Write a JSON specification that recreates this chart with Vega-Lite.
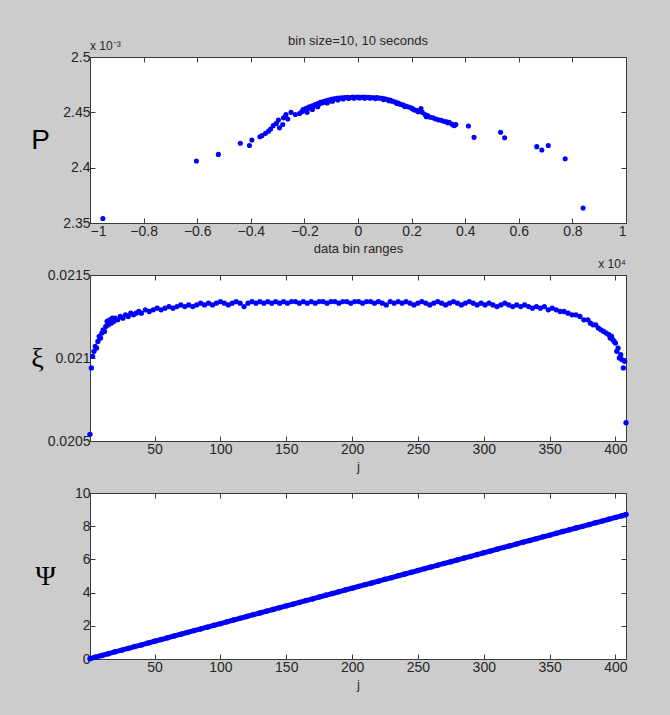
{
  "$schema": "https://vega.github.io/schema/vega-lite/v6.json",
  "background": "#cccccc",
  "autosize": {"type": "none"},
  "padding": {"left": 90, "top": 57, "right": 580, "bottom": 658},
  "config": {
    "view": {"fill": "#ffffff", "stroke": "#3a3a3a", "strokeWidth": 1},
    "axis": {
      "domain": false, "grid": false, "tickSize": -5, "tickColor": "#3a3a3a", "tickWidth": 1,
      "labelFont": "Liberation Sans", "labelFontSize": 14, "labelColor": "#262626", "labelPadding": 6,
      "titleFont": "Liberation Sans", "titleFontSize": 13, "titleFontWeight": "normal", "titleColor": "#262626", "titlePadding": 4
    },
    "axisY": {"labelPadding": 5}
  },
  "datasets": {
    "pdata": [
      {"range": -0.952, "P": 2.354}, {"range": -0.603, "P": 2.406}, {"range": -0.521, "P": 2.412},
      {"range": -0.439, "P": 2.422}, {"range": -0.405, "P": 2.420}, {"range": -0.396, "P": 2.425},
      {"range": -0.366, "P": 2.428}, {"range": -0.358, "P": 2.429}, {"range": -0.345, "P": 2.431},
      {"range": -0.334, "P": 2.433}, {"range": -0.326, "P": 2.435}, {"range": -0.316, "P": 2.438},
      {"range": -0.305, "P": 2.440}, {"range": -0.297, "P": 2.443}, {"range": -0.293, "P": 2.436},
      {"range": -0.281, "P": 2.439}, {"range": -0.278, "P": 2.445}, {"range": -0.269, "P": 2.448},
      {"range": -0.262, "P": 2.444}, {"range": -0.25, "P": 2.450}, {"range": -0.234, "P": 2.448},
      {"range": -0.218, "P": 2.449},
      {"range": -0.21, "P": 2.4505}, {"range": -0.205, "P": 2.4525}, {"range": -0.2, "P": 2.4515},
      {"range": -0.195, "P": 2.4535}, {"range": -0.19, "P": 2.4525}, {"range": -0.19, "P": 2.4500},
      {"range": -0.185, "P": 2.4545}, {"range": -0.18, "P": 2.4550}, {"range": -0.175, "P": 2.4540},
      {"range": -0.17, "P": 2.4560}, {"range": -0.17, "P": 2.4525}, {"range": -0.165, "P": 2.4555},
      {"range": -0.16, "P": 2.4570}, {"range": -0.155, "P": 2.4565}, {"range": -0.15, "P": 2.4580},
      {"range": -0.15, "P": 2.4550}, {"range": -0.145, "P": 2.4575}, {"range": -0.14, "P": 2.4590},
      {"range": -0.135, "P": 2.4585}, {"range": -0.13, "P": 2.4598}, {"range": -0.125, "P": 2.4592},
      {"range": -0.12, "P": 2.4605}, {"range": -0.115, "P": 2.4585}, {"range": -0.11, "P": 2.4610},
      {"range": -0.105, "P": 2.4602}, {"range": -0.095, "P": 2.4600}, {"range": -0.1, "P": 2.4618},
      {"range": -0.09, "P": 2.4622}, {"range": -0.08, "P": 2.4626}, {"range": -0.075, "P": 2.4612},
      {"range": -0.07, "P": 2.4628}, {"range": -0.06, "P": 2.4632}, {"range": -0.055, "P": 2.4620},
      {"range": -0.05, "P": 2.4633}, {"range": -0.04, "P": 2.4636}, {"range": -0.035, "P": 2.4625},
      {"range": -0.03, "P": 2.4634}, {"range": -0.02, "P": 2.4637}, {"range": -0.015, "P": 2.4628},
      {"range": -0.01, "P": 2.4636}, {"range": 0.0, "P": 2.4638}, {"range": 0.005, "P": 2.4629},
      {"range": 0.01, "P": 2.4636}, {"range": 0.02, "P": 2.4637}, {"range": 0.025, "P": 2.4628},
      {"range": 0.03, "P": 2.4635}, {"range": 0.04, "P": 2.4636}, {"range": 0.045, "P": 2.4627},
      {"range": 0.05, "P": 2.4634}, {"range": 0.06, "P": 2.4632}, {"range": 0.065, "P": 2.4624},
      {"range": 0.07, "P": 2.4633}, {"range": 0.08, "P": 2.4628}, {"range": 0.09, "P": 2.4626},
      {"range": 0.095, "P": 2.4615}, {"range": 0.1, "P": 2.4622}, {"range": 0.11, "P": 2.4615},
      {"range": 0.115, "P": 2.4604}, {"range": 0.12, "P": 2.4610}, {"range": 0.125, "P": 2.4602},
      {"range": 0.13, "P": 2.4600}, {"range": 0.14, "P": 2.4592}, {"range": 0.145, "P": 2.4580},
      {"range": 0.15, "P": 2.4585}, {"range": 0.155, "P": 2.4575}, {"range": 0.16, "P": 2.4572},
      {"range": 0.17, "P": 2.4565}, {"range": 0.175, "P": 2.4552}, {"range": 0.18, "P": 2.4555},
      {"range": 0.19, "P": 2.4548}, {"range": 0.2, "P": 2.4538}, {"range": 0.205, "P": 2.4530},
      {"range": 0.21, "P": 2.4522}, {"range": 0.22, "P": 2.4515}, {"range": 0.225, "P": 2.4505},
      {"range": 0.235, "P": 2.4535}, {"range": 0.24, "P": 2.4500}, {"range": 0.25, "P": 2.4480},
      {"range": 0.255, "P": 2.4460}, {"range": 0.26, "P": 2.4470}, {"range": 0.27, "P": 2.4455},
      {"range": 0.28, "P": 2.4450}, {"range": 0.29, "P": 2.4440}, {"range": 0.3, "P": 2.4432},
      {"range": 0.31, "P": 2.4428}, {"range": 0.32, "P": 2.4420}, {"range": 0.33, "P": 2.4415},
      {"range": 0.335, "P": 2.4405}, {"range": 0.34, "P": 2.4410}, {"range": 0.35, "P": 2.4395},
      {"range": 0.355, "P": 2.4385}, {"range": 0.36, "P": 2.4380}, {"range": 0.365, "P": 2.4390},
      {"range": 0.412, "P": 2.4377}, {"range": 0.433, "P": 2.4274}, {"range": 0.532, "P": 2.432},
      {"range": 0.547, "P": 2.427}, {"range": 0.667, "P": 2.419}, {"range": 0.686, "P": 2.416},
      {"range": 0.71, "P": 2.420}, {"range": 0.773, "P": 2.408}, {"range": 0.84, "P": 2.3635}
    ],
    "xidata": [
      {"j": 1, "xi": 0.02054}, {"j": 2, "xi": 0.02094}, {"j": 3, "xi": 0.02101}, {"j": 4, "xi": 0.02104},
      {"j": 5, "xi": 0.02107}, {"j": 6, "xi": 0.02106}, {"j": 7, "xi": 0.02110}, {"j": 8, "xi": 0.02113},
      {"j": 9, "xi": 0.02112}, {"j": 10, "xi": 0.02115}, {"j": 11, "xi": 0.02117}, {"j": 12, "xi": 0.02116},
      {"j": 13, "xi": 0.02119}, {"j": 14, "xi": 0.02122}, {"j": 15, "xi": 0.02120}, {"j": 16, "xi": 0.02123},
      {"j": 17, "xi": 0.02121}, {"j": 18, "xi": 0.02124}, {"j": 19, "xi": 0.02122}, {"j": 20, "xi": 0.02124},
      {"j": 22, "xi": 0.02123}, {"j": 24, "xi": 0.02125}, {"j": 26, "xi": 0.02124}, {"j": 28, "xi": 0.02126},
      {"j": 30, "xi": 0.02125}, {"j": 32, "xi": 0.02127}, {"j": 34, "xi": 0.02126}, {"j": 36, "xi": 0.02127},
      {"j": 38, "xi": 0.02128}, {"j": 40, "xi": 0.02127}, {"j": 43, "xi": 0.02129}, {"j": 46, "xi": 0.02128},
      {"j": 49, "xi": 0.02129}, {"j": 52, "xi": 0.02130}, {"j": 55, "xi": 0.02129}, {"j": 58, "xi": 0.02130},
      {"j": 61, "xi": 0.02131}, {"j": 64, "xi": 0.02130}, {"j": 67, "xi": 0.02131}, {"j": 70, "xi": 0.02132},
      {"j": 73, "xi": 0.02131}, {"j": 76, "xi": 0.02132}, {"j": 79, "xi": 0.02131}, {"j": 82, "xi": 0.02132},
      {"j": 85, "xi": 0.02133}, {"j": 88, "xi": 0.02132}, {"j": 91, "xi": 0.02133}, {"j": 94, "xi": 0.02132},
      {"j": 97, "xi": 0.02133}, {"j": 100, "xi": 0.02134}, {"j": 103, "xi": 0.02133}, {"j": 106, "xi": 0.02132},
      {"j": 109, "xi": 0.02133}, {"j": 112, "xi": 0.02134}, {"j": 115, "xi": 0.02133}, {"j": 118, "xi": 0.02131},
      {"j": 121, "xi": 0.02133}, {"j": 124, "xi": 0.02134}, {"j": 127, "xi": 0.02133}, {"j": 130, "xi": 0.02134},
      {"j": 133, "xi": 0.02133}, {"j": 136, "xi": 0.02134}, {"j": 139, "xi": 0.02133}, {"j": 142, "xi": 0.02134},
      {"j": 145, "xi": 0.02133}, {"j": 148, "xi": 0.02134}, {"j": 151, "xi": 0.02133}, {"j": 154, "xi": 0.02134},
      {"j": 157, "xi": 0.02134}, {"j": 160, "xi": 0.02133}, {"j": 163, "xi": 0.02134}, {"j": 166, "xi": 0.02133},
      {"j": 169, "xi": 0.02134}, {"j": 172, "xi": 0.02133}, {"j": 175, "xi": 0.02134}, {"j": 178, "xi": 0.02134},
      {"j": 181, "xi": 0.02133}, {"j": 184, "xi": 0.02134}, {"j": 187, "xi": 0.02134}, {"j": 190, "xi": 0.02133},
      {"j": 193, "xi": 0.02134}, {"j": 196, "xi": 0.02134}, {"j": 199, "xi": 0.02133}, {"j": 202, "xi": 0.02134},
      {"j": 205, "xi": 0.02134}, {"j": 208, "xi": 0.02133}, {"j": 211, "xi": 0.02134}, {"j": 214, "xi": 0.02134},
      {"j": 217, "xi": 0.02133}, {"j": 220, "xi": 0.02134}, {"j": 223, "xi": 0.02133}, {"j": 226, "xi": 0.02132},
      {"j": 229, "xi": 0.02134}, {"j": 232, "xi": 0.02133}, {"j": 235, "xi": 0.02134}, {"j": 238, "xi": 0.02133},
      {"j": 241, "xi": 0.02134}, {"j": 244, "xi": 0.02133}, {"j": 247, "xi": 0.02132}, {"j": 250, "xi": 0.02133},
      {"j": 253, "xi": 0.02134}, {"j": 256, "xi": 0.02133}, {"j": 259, "xi": 0.02132}, {"j": 262, "xi": 0.02133},
      {"j": 265, "xi": 0.02134}, {"j": 268, "xi": 0.02133}, {"j": 271, "xi": 0.02132}, {"j": 274, "xi": 0.02133},
      {"j": 277, "xi": 0.02134}, {"j": 280, "xi": 0.02133}, {"j": 283, "xi": 0.02132}, {"j": 286, "xi": 0.02133},
      {"j": 289, "xi": 0.02134}, {"j": 292, "xi": 0.02133}, {"j": 295, "xi": 0.02132}, {"j": 298, "xi": 0.02133},
      {"j": 301, "xi": 0.02132}, {"j": 304, "xi": 0.02133}, {"j": 307, "xi": 0.02132}, {"j": 310, "xi": 0.02131},
      {"j": 313, "xi": 0.02132}, {"j": 316, "xi": 0.02133}, {"j": 319, "xi": 0.02132}, {"j": 322, "xi": 0.02131},
      {"j": 325, "xi": 0.02132}, {"j": 328, "xi": 0.02131}, {"j": 331, "xi": 0.02132}, {"j": 334, "xi": 0.02131},
      {"j": 337, "xi": 0.02130}, {"j": 340, "xi": 0.02131}, {"j": 343, "xi": 0.02130}, {"j": 346, "xi": 0.02131},
      {"j": 349, "xi": 0.02129}, {"j": 352, "xi": 0.02130}, {"j": 355, "xi": 0.02129}, {"j": 358, "xi": 0.02128},
      {"j": 361, "xi": 0.02128}, {"j": 364, "xi": 0.02127}, {"j": 367, "xi": 0.02126}, {"j": 370, "xi": 0.02126},
      {"j": 373, "xi": 0.02125}, {"j": 376, "xi": 0.02123}, {"j": 379, "xi": 0.02123}, {"j": 381, "xi": 0.02121},
      {"j": 383, "xi": 0.02120}, {"j": 385, "xi": 0.02120}, {"j": 387, "xi": 0.02118}, {"j": 389, "xi": 0.02117},
      {"j": 391, "xi": 0.02116}, {"j": 393, "xi": 0.02115}, {"j": 395, "xi": 0.02114}, {"j": 396, "xi": 0.02112},
      {"j": 397, "xi": 0.02113}, {"j": 398, "xi": 0.02111}, {"j": 399, "xi": 0.02110}, {"j": 400, "xi": 0.02109},
      {"j": 401, "xi": 0.02104}, {"j": 402, "xi": 0.02106}, {"j": 403, "xi": 0.02100}, {"j": 404, "xi": 0.02102},
      {"j": 405, "xi": 0.02099}, {"j": 406, "xi": 0.02094}, {"j": 407, "xi": 0.02098}, {"j": 408, "xi": 0.02061}
    ],
    "psidata": [
      {"j": 1, "psi": 0.02}, {"j": 5, "psi": 0.11}, {"j": 10, "psi": 0.21}, {"j": 15, "psi": 0.32},
      {"j": 20, "psi": 0.43}, {"j": 25, "psi": 0.53}, {"j": 30, "psi": 0.64}, {"j": 35, "psi": 0.75},
      {"j": 40, "psi": 0.85}, {"j": 45, "psi": 0.96}, {"j": 50, "psi": 1.07}, {"j": 55, "psi": 1.17},
      {"j": 60, "psi": 1.28}, {"j": 65, "psi": 1.39}, {"j": 70, "psi": 1.49}, {"j": 75, "psi": 1.60},
      {"j": 80, "psi": 1.71}, {"j": 85, "psi": 1.81}, {"j": 90, "psi": 1.92}, {"j": 95, "psi": 2.03},
      {"j": 100, "psi": 2.13}, {"j": 105, "psi": 2.24}, {"j": 110, "psi": 2.35}, {"j": 115, "psi": 2.45},
      {"j": 120, "psi": 2.56}, {"j": 125, "psi": 2.67}, {"j": 130, "psi": 2.77}, {"j": 135, "psi": 2.88},
      {"j": 140, "psi": 2.98}, {"j": 145, "psi": 3.09}, {"j": 150, "psi": 3.20}, {"j": 155, "psi": 3.30},
      {"j": 160, "psi": 3.41}, {"j": 165, "psi": 3.52}, {"j": 170, "psi": 3.62}, {"j": 175, "psi": 3.73},
      {"j": 180, "psi": 3.84}, {"j": 185, "psi": 3.94}, {"j": 190, "psi": 4.05}, {"j": 195, "psi": 4.16},
      {"j": 200, "psi": 4.26}, {"j": 205, "psi": 4.37}, {"j": 210, "psi": 4.48}, {"j": 215, "psi": 4.58},
      {"j": 220, "psi": 4.69}, {"j": 225, "psi": 4.80}, {"j": 230, "psi": 4.90}, {"j": 235, "psi": 5.01},
      {"j": 240, "psi": 5.12}, {"j": 245, "psi": 5.22}, {"j": 250, "psi": 5.33}, {"j": 255, "psi": 5.44},
      {"j": 260, "psi": 5.54}, {"j": 265, "psi": 5.65}, {"j": 270, "psi": 5.76}, {"j": 275, "psi": 5.86},
      {"j": 280, "psi": 5.97}, {"j": 285, "psi": 6.08}, {"j": 290, "psi": 6.18}, {"j": 295, "psi": 6.29},
      {"j": 300, "psi": 6.40}, {"j": 305, "psi": 6.50}, {"j": 310, "psi": 6.61}, {"j": 315, "psi": 6.72},
      {"j": 320, "psi": 6.82}, {"j": 325, "psi": 6.93}, {"j": 330, "psi": 7.04}, {"j": 335, "psi": 7.14},
      {"j": 340, "psi": 7.25}, {"j": 345, "psi": 7.36}, {"j": 350, "psi": 7.46}, {"j": 355, "psi": 7.57},
      {"j": 360, "psi": 7.68}, {"j": 365, "psi": 7.78}, {"j": 370, "psi": 7.89}, {"j": 375, "psi": 7.99},
      {"j": 380, "psi": 8.10}, {"j": 385, "psi": 8.21}, {"j": 390, "psi": 8.31}, {"j": 395, "psi": 8.42},
      {"j": 400, "psi": 8.53}, {"j": 405, "psi": 8.63}, {"j": 408, "psi": 8.70}
    ]
  },
  "bounds": "flush",
  "spacing": 52,
  "vconcat": [
    {
      "width": 536, "height": 166,
      "title": {"text": "bin size=10, 10 seconds", "font": "Liberation Sans", "fontSize": 13, "fontWeight": "normal", "color": "#262626", "frame": "group", "offset": -8},
      "layer": [
        {
          "data": {"name": "pdata"},
          "mark": {"type": "point", "opacity": 0},
          "encoding": {
            "x": {"field": "range", "type": "quantitative", "scale": {"domain": [-1, 1], "nice": false, "zero": false},
                  "axis": {"orient": "top", "labels": false, "title": null, "values": [-1, -0.8, -0.6, -0.4, -0.2, 0, 0.2, 0.4, 0.6, 0.8, 1]}},
            "y": {"field": "P", "type": "quantitative", "scale": {"domain": [2.35, 2.5], "nice": false, "zero": false},
                  "axis": {"orient": "right", "labels": false, "title": null, "values": [2.35, 2.4, 2.45, 2.5]}}
          }
        },
        {
          "data": {"name": "pdata"},
          "mark": {"type": "circle", "size": 26, "color": "#0000ff", "opacity": 1},
          "encoding": {
            "x": {"field": "range", "type": "quantitative",
                  "axis": {"orient": "bottom", "values": [-1, -0.8, -0.6, -0.4, -0.2, 0, 0.2, 0.4, 0.6, 0.8, 1], "format": "~g", "title": "data bin ranges"}},
            "y": {"field": "P", "type": "quantitative",
                  "axis": {"orient": "left", "values": [2.35, 2.4, 2.45, 2.5], "format": "~g", "title": "P",
                           "titleAngle": 0, "titleX": -50, "titleY": 83, "titleAlign": "center", "titleBaseline": "middle",
                           "titleFont": "Liberation Sans", "titleFontSize": 28, "titleColor": "#000000"}}
          }
        },
        {
          "data": {"values": [{}]},
          "mark": {"type": "text", "align": "left", "baseline": "bottom", "dy": -4, "font": "Liberation Sans", "fontSize": 12, "color": "#262626"},
          "encoding": {
            "x": {"datum": -1, "type": "quantitative", "axis": null},
            "y": {"datum": 2.5, "type": "quantitative", "axis": null},
            "text": {"value": "x 10⁻³"}
          }
        }
      ],
      "resolve": {"axis": {"x": "independent", "y": "independent"}}
    },
    {
      "width": 536, "height": 166,
      "layer": [
        {
          "data": {"name": "xidata"},
          "mark": {"type": "point", "opacity": 0},
          "encoding": {
            "x": {"field": "j", "type": "quantitative", "scale": {"domain": [1, 408], "nice": false, "zero": false},
                  "axis": {"orient": "top", "labels": false, "title": null, "values": [50, 100, 150, 200, 250, 300, 350, 400]}},
            "y": {"field": "xi", "type": "quantitative", "scale": {"domain": [0.0205, 0.0215], "nice": false, "zero": false},
                  "axis": {"orient": "right", "labels": false, "title": null, "values": [0.0205, 0.021, 0.0215]}}
          }
        },
        {
          "data": {"name": "xidata"},
          "mark": {"type": "circle", "size": 28, "color": "#0000ff", "opacity": 1},
          "encoding": {
            "x": {"field": "j", "type": "quantitative",
                  "axis": {"orient": "bottom", "values": [50, 100, 150, 200, 250, 300, 350, 400], "format": "d", "title": "j"}},
            "y": {"field": "xi", "type": "quantitative",
                  "axis": {"orient": "left", "values": [0.0205, 0.021, 0.0215], "format": "~g", "title": "ξ",
                           "titleAngle": 0, "titleX": -53, "titleY": 83, "titleAlign": "center", "titleBaseline": "middle",
                           "titleFont": "Liberation Serif", "titleFontSize": 28, "titleColor": "#000000"}}
          }
        },
        {
          "data": {"values": [{}]},
          "mark": {"type": "text", "align": "right", "baseline": "bottom", "dy": -4, "font": "Liberation Sans", "fontSize": 12, "color": "#262626"},
          "encoding": {
            "x": {"datum": 408, "type": "quantitative", "axis": null},
            "y": {"datum": 0.0215, "type": "quantitative", "axis": null},
            "text": {"value": "x 10⁴"}
          }
        }
      ],
      "resolve": {"axis": {"x": "independent", "y": "independent"}}
    },
    {
      "width": 536, "height": 166,
      "layer": [
        {
          "data": {"name": "psidata"},
          "mark": {"type": "point", "opacity": 0},
          "encoding": {
            "x": {"field": "j", "type": "quantitative", "scale": {"domain": [1, 408], "nice": false, "zero": false},
                  "axis": {"orient": "top", "labels": false, "title": null, "values": [50, 100, 150, 200, 250, 300, 350, 400]}},
            "y": {"field": "psi", "type": "quantitative", "scale": {"domain": [0, 10], "nice": false},
                  "axis": {"orient": "right", "labels": false, "title": null, "values": [0, 2, 4, 6, 8, 10]}}
          }
        },
        {
          "data": {"name": "psidata"},
          "mark": {"type": "line", "color": "#0000ff", "strokeWidth": 5},
          "encoding": {
            "x": {"field": "j", "type": "quantitative",
                  "axis": {"orient": "bottom", "values": [50, 100, 150, 200, 250, 300, 350, 400], "format": "d", "title": "j"}},
            "y": {"field": "psi", "type": "quantitative",
                  "axis": {"orient": "left", "values": [0, 2, 4, 6, 8, 10], "format": "d", "title": "Ψ",
                           "titleAngle": 0, "titleX": -45, "titleY": 83, "titleAlign": "center", "titleBaseline": "middle",
                           "titleFont": "Liberation Serif", "titleFontSize": 28, "titleColor": "#000000"}}
          }
        },
        {
          "data": {"name": "psidata"},
          "mark": {"type": "circle", "size": 30, "color": "#0000ff", "opacity": 1},
          "encoding": {
            "x": {"field": "j", "type": "quantitative", "axis": null},
            "y": {"field": "psi", "type": "quantitative", "axis": null}
          }
        }
      ],
      "resolve": {"axis": {"x": "independent", "y": "independent"}}
    }
  ]
}
